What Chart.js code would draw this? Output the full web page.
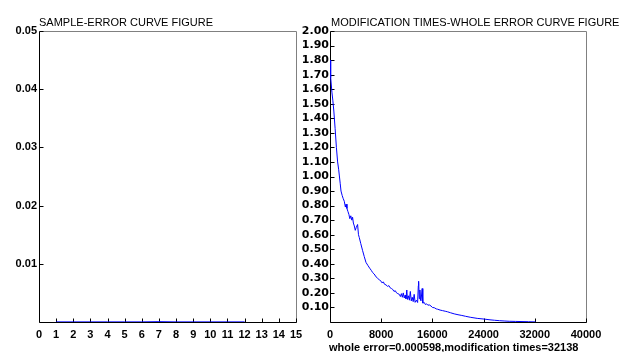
<!DOCTYPE html>
<html>
<head>
<meta charset="utf-8">
<script src="https://cdn.jsdelivr.net/npm/chart.js@4"></script>
<style>
  body { margin: 0; background: #fff; width: 636px; height: 352px; position: relative; overflow: hidden; font-family: "Liberation Sans", Arial, sans-serif; }
  .box { position: absolute; top: 0; height: 352px; }
  .txt { position: absolute; color: #000; font-size: 11px; line-height: 12px; white-space: nowrap; }
</style>
</head>
<body>
<div class="box" style="left:0;width:318px"><canvas id="sampleChart"></canvas></div>
<div class="box" style="left:300px;width:336px"><canvas id="wholeChart"></canvas></div>
<div class="txt" style="left:39px;top:16px">SAMPLE-ERROR CURVE FIGURE</div>
<div class="txt" style="left:331px;top:16px">MODIFICATION TIMES-WHOLE ERROR CURVE FIGURE</div>
<div class="txt" style="left:329px;top:341px;font-weight:bold">whole error=0.000598,modification times=32138</div>
<script>
// left chart: error of each sample
const samples = [1, 2, 3, 4, 5, 6, 7, 8, 9, 10, 11, 12];
const sampleErrors = [0.00002, 0.00002, 0.00002, 0.00002, 0.00002, 0.00002, 0.00006, 0.00002, 0.00002, 0.00002, 0.00002, 0.00002];

// right chart: whole error against modification times
const modTimes = [0, 60, 150, 300, 450, 600, 800, 1000, 1190, 1350, 1450, 1600, 1720, 1900, 2050, 2230,
  2400, 2500, 2650, 2800, 2950, 3100, 3250, 3400, 3530, 3650, 3800, 3950, 4100, 4310, 4450, 4580,
  4800, 5100, 5350, 5620, 5900, 6200, 6450, 6660, 6900, 7200, 7450, 7700, 7900, 8100, 8350, 8500,
  8750, 9000, 9200, 9400, 9600, 9780, 10000, 10200, 10400, 10600, 10830, 11000, 11150, 11300, 11450,
  11600, 11750, 11870, 12000, 12100, 12250, 12400, 12550, 12700, 12850, 13000, 13150, 13300, 13500,
  13690, 13800, 13850, 13950, 14050, 14150, 14220, 14400, 14500, 14730, 14900, 15100, 15300, 15500,
  15780, 16000, 16300, 16600, 16800, 17200, 17600, 18000, 18380, 18800, 19400, 20000, 20600, 21200,
  22000, 23000, 24100, 25000, 25700, 26500, 27200, 28000, 29000, 30000, 31000, 32138];
const wholeErrors = [1.80, 1.72, 1.68, 1.58, 1.52, 1.45, 1.33, 1.20, 1.10, 1.05, 1.01, 0.95, 0.90, 0.87, 0.85, 0.83,
  0.79, 0.81, 0.78, 0.76, 0.74, 0.71, 0.73, 0.70, 0.72, 0.68, 0.66, 0.63, 0.65, 0.67, 0.60, 0.58,
  0.54, 0.49, 0.45, 0.41, 0.39, 0.37, 0.355, 0.34, 0.33, 0.31, 0.30, 0.29, 0.285, 0.27, 0.275, 0.26,
  0.255, 0.245, 0.25, 0.235, 0.23, 0.225, 0.21, 0.215, 0.20, 0.195, 0.19, 0.175, 0.195, 0.17, 0.20,
  0.165, 0.185, 0.16, 0.22, 0.155, 0.18, 0.15, 0.21, 0.145, 0.17, 0.14, 0.19, 0.135, 0.15,
  0.134, 0.25, 0.28, 0.16, 0.22, 0.15, 0.145, 0.23, 0.13, 0.134, 0.12, 0.125, 0.115, 0.118,
  0.11, 0.10, 0.098, 0.09, 0.088, 0.082, 0.078, 0.074, 0.07, 0.064, 0.056, 0.05, 0.045, 0.039,
  0.032, 0.025, 0.02, 0.015, 0.012, 0.009, 0.007, 0.005, 0.004, 0.003, 0.002, 0.0006];

const tickFont = { family: "Liberation Sans", size: 11, weight: "bold" };
const wideFont = { family: "DejaVu Sans", size: 11, weight: "bold" };

// box round the plot, inward tick marks, x tick labels under the axis
const framePlugin = {
  id: "frame",
  beforeDatasetsDraw(chart) {
    const { ctx, chartArea: a, scales } = chart;
    const l = Math.round(a.left) + 0.5, r = Math.round(a.right) + 0.5;
    const t = Math.round(a.top) + 0.5, b = Math.round(a.bottom) + 0.5;
    ctx.save();
    ctx.lineWidth = 1;
    ctx.strokeStyle = "#808080";
    ctx.beginPath();
    ctx.moveTo(l, t); ctx.lineTo(r, t); ctx.lineTo(r, b);
    ctx.stroke();
    ctx.strokeStyle = "#000";
    ctx.beginPath();
    ctx.moveTo(l, t); ctx.lineTo(l, b); ctx.lineTo(r, b);
    scales.x.ticks.forEach((tk, i) => {
      const px = Math.round(scales.x.getPixelForTick(i)) + 0.5;
      ctx.moveTo(px, b); ctx.lineTo(px, b - 4);
    });
    scales.y.ticks.forEach((tk, i) => {
      if (tk.value === 0) return;
      const py = Math.round(scales.y.getPixelForTick(i)) + 0.5;
      ctx.moveTo(l, py); ctx.lineTo(l + 4, py);
    });
    ctx.stroke();
    ctx.restore();
  },
  afterDraw(chart) {
    const { ctx, chartArea: a, scales } = chart;
    ctx.save();
    ctx.font = "bold 11px 'Liberation Sans'";
    ctx.fillStyle = "#000";
    ctx.textAlign = "center";
    ctx.textBaseline = "middle";
    scales.x.ticks.forEach((tk, i) => {
      ctx.fillText(String(tk.value), scales.x.getPixelForTick(i), Math.round(a.bottom) + 13);
    });
    ctx.restore();
  }
};

function makeChart(id, xs, ys, opt) {
  new Chart(document.getElementById(id), {
    type: "line",
    data: {
      datasets: [{
        data: xs.map((x, i) => ({ x: x, y: ys[i] })),
        borderColor: "#0000ff",
        borderWidth: 1,
        pointRadius: 0,
        tension: 0
      }]
    },
    options: {
      responsive: true,
      maintainAspectRatio: false,
      animation: false,
      layout: { padding: { top: 31, right: opt.padRight, left: 0, bottom: 0 } },
      plugins: { legend: { display: false }, tooltip: { enabled: false } },
      scales: {
        x: {
          type: "linear",
          min: 0, max: opt.xMax,
          grid: { display: false, drawTicks: false },
          border: { display: false },
          ticks: { display: false, stepSize: opt.xStep, autoSkip: false, maxRotation: 0 },
          afterFit: s => { s.height = 30; }
        },
        y: {
          min: 0, max: opt.yMax,
          grid: { display: false, drawTicks: false },
          border: { display: false },
          ticks: {
            stepSize: opt.yStep, font: opt.yFont, color: "#000", padding: opt.yPad, autoSkip: false,
            callback: v => v === 0 ? "" : v.toFixed(2)
          },
          afterFit: s => { s.width = opt.yWidth; }
        }
      }
    },
    plugins: [framePlugin]
  });
}

makeChart("sampleChart", samples, sampleErrors, { xMax: 15, xStep: 1, yMax: 0.05, yStep: 0.01, yWidth: 39, yPad: 2, yFont: tickFont, padRight: 22 });
makeChart("wholeChart", modTimes, wholeErrors, { xMax: 40000, xStep: 8000, yMax: 2, yStep: 0.1, yWidth: 30, yPad: 1, yFont: wideFont, padRight: 50 });
</script>
</body>
</html>
